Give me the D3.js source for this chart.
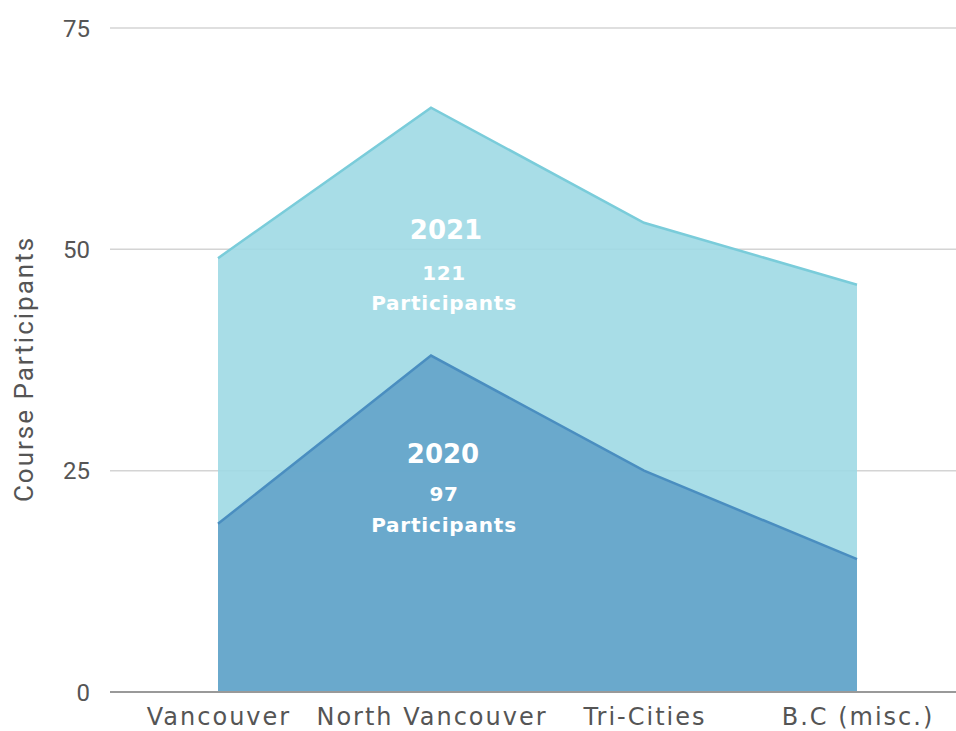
<!DOCTYPE html>
<html><head><meta charset="utf-8">
<script src="https://cdn.jsdelivr.net/npm/d3@7"></script>
<style>body{margin:0;background:#fff}</style>
</head><body>
<svg id="c" width="956" height="731"></svg>
<script>
const categories = ["Vancouver", "North Vancouver", "Tri-Cities", "B.C (misc.)"];
const values2020 = [19, 38, 25, 15];
const values2021 = [49, 66, 53, 46];
const yTicks = [0, 25, 50, 75];
const labels = [
  {year: "2021", total: "121", word: "Participants"},
  {year: "2020", total: "97", word: "Participants"}
];

const svg = d3.select("#c");
const tickFont = "Roboto, sans-serif";
const catFont = "'DejaVu Sans', sans-serif";
const x = d3.scalePoint().domain(categories).range([218, 857]);
const y = d3.scaleLinear().domain([0, 75]).range([692, 28]);

// grid
svg.append("g").selectAll("line").data(yTicks.filter(d => d > 0)).join("line")
  .attr("x1", 110).attr("x2", 956)
  .attr("y1", d => y(d)).attr("y2", d => y(d))
  .attr("stroke", "#d4d4d4").attr("stroke-width", 1.5);

const area = d3.area().x((d, i) => x(categories[i])).y0(y(0)).y1(d => y(d));
const line = d3.line().x((d, i) => x(categories[i])).y(d => y(d));

svg.append("path").datum(values2021).attr("d", area)
  .attr("fill", "#9ed9e4").attr("fill-opacity", 0.9);
svg.append("path").datum(values2021).attr("d", line)
  .attr("fill", "none").attr("stroke", "#7accda").attr("stroke-width", 2.5);
svg.append("path").datum(values2020).attr("d", area)
  .attr("fill", "#63a3c9").attr("fill-opacity", 0.9);
svg.append("path").datum(values2020).attr("d", line)
  .attr("fill", "none").attr("stroke", "#4a8ec0").attr("stroke-width", 2.5);

// x axis line
svg.append("line").attr("x1", 110).attr("x2", 956)
  .attr("y1", y(0)).attr("y2", y(0))
  .attr("stroke", "#999").attr("stroke-width", 2);

// y tick labels
svg.append("g").selectAll("text").data(yTicks).join("text")
  .attr("x", 90).attr("y", d => y(d) + 8.5)
  .attr("text-anchor", "end")
  .attr("font-family", tickFont).attr("font-size", 24).attr("fill", "#555")
  .text(d => d);

// x labels
svg.append("g").selectAll("text").data(categories).join("text")
  .attr("x", d => x(d) + 1).attr("y", 725)
  .attr("text-anchor", "middle")
  .attr("font-family", catFont).attr("font-size", 24).attr("letter-spacing", 2)
  .attr("fill", "#555")
  .text(d => d);

// y axis title
svg.append("text")
  .attr("transform", "translate(33,369) rotate(-90)")
  .attr("text-anchor", "middle")
  .attr("font-family", tickFont).attr("font-size", 26).attr("letter-spacing", 2)
  .attr("fill", "#555")
  .text("Course Participants");

// series labels
const labelPos = [{cx: 446, yy: 239, t: 41, w: 71}, {cx: 443, yy: 463, t: 38, w: 69}];
labels.forEach((l, i) => {
  const p = labelPos[i];
  const g = svg.append("g").attr("font-family", catFont).attr("font-weight", 700)
    .attr("fill", "#fff").attr("text-anchor", "middle");
  g.append("text").attr("x", p.cx).attr("y", p.yy).attr("font-size", 26).text(l.year);
  g.append("text").attr("x", 444).attr("y", p.yy + p.t).attr("font-size", 20)
    .attr("letter-spacing", 0.6).text(l.total);
  g.append("text").attr("x", 444).attr("y", p.yy + p.w).attr("font-size", 20)
    .attr("letter-spacing", 0.8).text(l.word);
});
</script>
</body></html>
